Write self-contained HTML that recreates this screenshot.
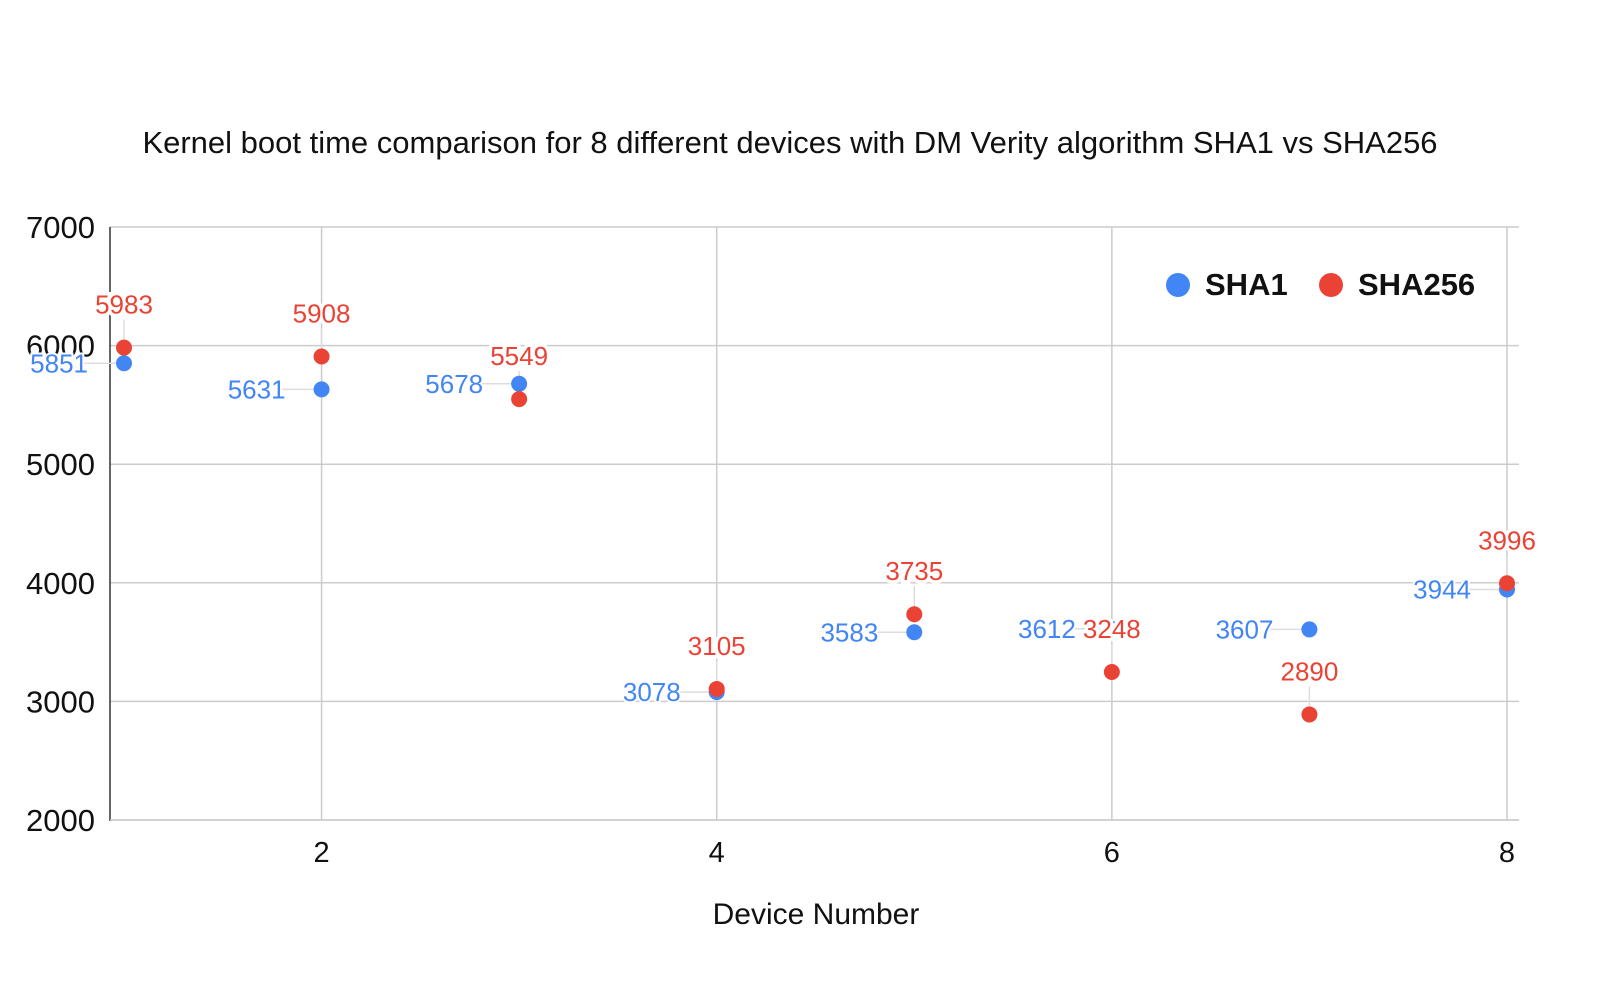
<!DOCTYPE html>
<html><head><meta charset="utf-8"><style>
body{margin:0;background:#fff;}
svg{display:block;font-family:"Liberation Sans",Arial,sans-serif;}
</style></head><body>
<svg id="chart" width="1600" height="984">
<text x="790" y="153" text-anchor="middle" font-size="31" fill="#111">Kernel boot time comparison for 8 different devices with DM Verity algorithm SHA1 vs SHA256</text>
<g id="grid"></g><g id="marks"></g><g id="labels"></g>
<text x="816" y="924" text-anchor="middle" font-size="30" fill="#111">Device Number</text>
<g>
<circle cx="1178" cy="285" r="12" fill="#4285f4"/>
<text x="1205" y="295" font-size="31" font-weight="bold" fill="#111">SHA1</text>
<circle cx="1331" cy="285" r="12" fill="#ea4335"/>
<text x="1358" y="295" font-size="31" font-weight="bold" fill="#111">SHA256</text>
</g>
</svg>
<script>
const devices=[1,2,3,4,5,6,7,8];
const sha1=[5851,5631,5678,3078,3583,3612,3607,3944];
const sha256=[5983,5908,5549,3105,3735,3248,2890,3996];
const yTicks=[2000,3000,4000,5000,6000,7000];
const xTicks=[2,4,6,8];
const NS='http://www.w3.org/2000/svg';
const X=v=>124+(v-1)*(1383/7);
const Y=v=>820-(v-2000)*593/5000;
const grid=document.getElementById('grid'),marks=document.getElementById('marks'),lblG=document.getElementById('labels');
function mk(tag,attrs,parent,txt){const e=document.createElementNS(NS,tag);for(const k in attrs)e.setAttribute(k,attrs[k]);if(txt!==undefined)e.textContent=txt;parent.appendChild(e);return e;}
yTicks.forEach(t=>{
 const l=mk('line',{x1:110,x2:1519,y1:Y(t),y2:Y(t),stroke:'#ccc','stroke-width':1.5},grid);
 
 
 const tx=mk('text',{x:95,y:Y(t)+11,'text-anchor':'end','font-size':31,fill:'#111'},grid,t);
 
 
});
xTicks.forEach(t=>{
 const l=mk('line',{x1:X(t),x2:X(t),y1:227,y2:820,stroke:'#ccc','stroke-width':1.5},grid);
 
 
 const tx=mk('text',{x:X(t),y:862,'text-anchor':'middle','font-size':29,fill:'#111'},grid,t);
 
 
});
const ax=mk('line',{x1:110,x2:110,y1:227,y2:821,stroke:'#333','stroke-width':1.5},grid);


const bx=mk('line',{x1:110,x2:1519,y1:820,y2:820,stroke:'#ccc','stroke-width':1.5},grid);


devices.forEach((d,i)=>{
 const x=X(d),y1=Y(sha1[i]),y2=Y(sha256[i]);
 mk('line',{x1:x-40,x2:x,y1:y1,y2:y1,stroke:'#ddd','stroke-width':1.5},marks);
 mk('line',{x1:x,x2:x,y1:y2-28,y2:y2,stroke:'#ddd','stroke-width':1.5},marks);
 const c1=mk('circle',{cx:x,cy:y1,r:8,fill:'#4285f4'},marks);
 
 
 const c2=mk('circle',{cx:x,cy:y2,r:8,fill:'#ea4335'},marks);
 
 
 const t1=mk('text',{x:x-36,y:y1+9,'text-anchor':'end','font-size':26,fill:'#4285f4',stroke:'#fff','stroke-width':4,'paint-order':'stroke'},lblG,sha1[i]);
 
 
 const t2=mk('text',{x:x,y:y2-34,'text-anchor':'middle','font-size':26,fill:'#ea4335',stroke:'#fff','stroke-width':7,'paint-order':'stroke'},lblG,sha256[i]);
 
 
});
</script>
</body></html>
